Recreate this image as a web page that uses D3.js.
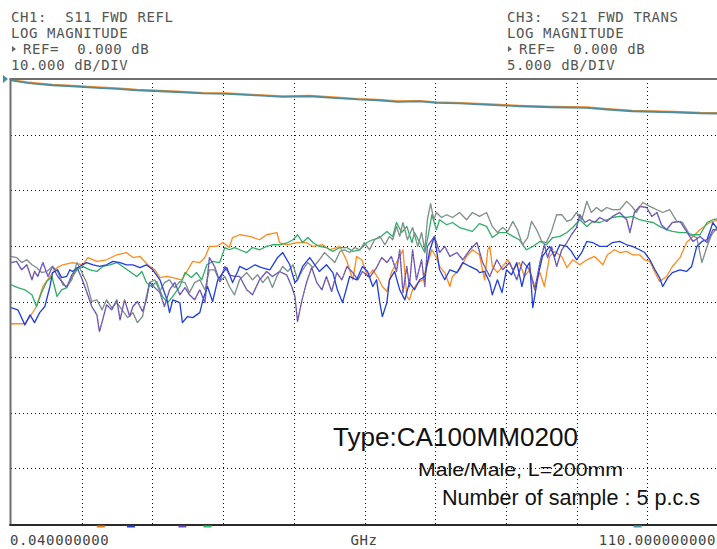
<!DOCTYPE html>
<html>
<head>
<meta charset="utf-8">
<script src="https://cdn.jsdelivr.net/npm/d3@7"></script>
<style>
  html, body { margin: 0; padding: 0; background: #fff; }
  svg { display: block; }
</style>
</head>
<body>
<div id="chart"></div>
<script>
// sweep + display settings of the analyzer
const startGHz = 0.04, stopGHz = 110;
const s11Ref = 0, s11PerDiv = 10;
const s21Ref = 0, s21PerDiv = 5;
const xDivs = 10, yDivs = 8;

const headerLeft = ["CH1:  S11 FWD REFL", "LOG MAGNITUDE", "REF=  0.000 dB", "10.000 dB/DIV"];
const headerRight = ["CH3:  S21 FWD TRANS", "LOG MAGNITUDE", "REF=  0.000 dB", "5.000 dB/DIV"];
const axisLabels = ["0.040000000", "GHz", "110.000000000"];
const notes = ["Type:CA100MM0200", "Male/Male, L=200mm", "Number of sample : 5 p.c.s"];

// 5 samples
const sampleColors = ["#ff8a1e", "#1f3ee0", "#5a4cc4", "#2fae68", "#8b8d84"];

// S11 per sample, [GHz, dB]
const s11Orange = [
  [0.04,-44.0],[2.2,-44.0],[3.0,-42.7],[4.0,-40.9],[5.0,-37.3],[6.1,-35.5],[7.2,-33.9],[8.1,-33.4],[9.6,-33.0],[11.2,-33.4],
  [12.0,-32.1],[13.4,-32.8],[14.9,-32.5],[16.5,-31.6],[18.0,-31.2],[19.0,-32.1],[20.1,-31.9],[21.3,-33.4],[22.4,-34.3],[23.2,-35.7],
  [24.3,-35.5],[25.2,-35.7],[26.6,-36.1],[27.4,-34.6],[28.3,-32.8],[29.4,-33.0],[30.2,-32.1],[30.9,-30.1],[32.0,-30.1],[33.0,-29.4],
  [34.0,-30.3],[34.5,-28.5],[35.6,-28.0],[37.2,-28.3],[38.7,-28.9],[39.8,-28.0],[41.4,-27.6],[41.8,-29.4],[42.9,-29.8],[44.5,-29.4],
  [46.0,-29.4],[47.0,-30.1],[48.5,-29.8],[49.6,-30.7],[51.2,-30.1],[52.3,-32.8],[52.7,-34.3],[53.2,-36.1],[53.8,-31.9],[54.6,-32.5],
  [55.5,-35.5],[56.3,-34.3],[57.1,-35.7],[57.8,-37.3],[58.5,-38.2],[59.2,-34.8],[60.0,-33.0],[61.0,-30.7],[61.6,-39.1],[62.0,-39.7],
  [62.5,-37.9],[63.3,-36.6],[64.1,-36.1],[64.7,-33.7],[65.5,-30.7],[66.2,-32.1],[66.7,-33.7],[67.5,-34.8],[68.3,-37.3],[68.7,-35.5],
  [69.8,-34.3],[70.9,-31.9],[71.8,-30.7],[72.9,-31.6],[73.7,-36.1],[74.2,-30.7],[74.5,-30.1],[74.9,-33.7],[75.7,-34.8],[76.5,-33.7],
  [77.3,-32.5],[78.1,-34.3],[79.1,-33.0],[79.9,-35.5],[80.7,-34.3],[81.5,-37.3],[82.3,-34.8],[83.0,-37.3],[83.8,-31.9],[84.6,-31.0],
  [85.7,-31.9],[86.5,-33.9],[87.4,-32.5],[88.5,-33.4],[89.6,-32.5],[90.8,-31.9],[92.1,-33.4],[92.8,-31.6],[93.9,-30.7],[94.7,-31.2],
  [95.8,-31.0],[96.7,-31.6],[97.8,-31.6],[98.6,-32.5],[99.4,-32.8],[100.2,-34.8],[100.9,-36.4],[102.0,-35.5],[102.9,-33.7],[104.1,-32.1],
  [105.1,-29.4],[106.1,-28.3],[107.2,-27.1],[108.7,-25.8],[110.0,-25.3]
];

const s11Blue = [
  [0.04,-41.1],[1.1,-41.5],[2.2,-44.2],[3.0,-42.4],[3.7,-43.8],[4.5,-42.0],[5.3,-40.9],[6.1,-37.3],[6.5,-34.8],[7.3,-34.3],
  [7.9,-35.7],[8.7,-35.5],[9.2,-34.3],[9.6,-34.6],[10.7,-33.7],[11.8,-33.0],[12.8,-33.4],[13.8,-33.7],[14.9,-33.4],[15.9,-32.8],
  [17.0,-33.0],[18.0,-33.4],[19.0,-33.4],[20.1,-33.9],[21.1,-33.4],[22.1,-34.3],[23.2,-36.1],[24.3,-39.7],[24.7,-42.0],[25.2,-39.7],
  [26.3,-40.2],[26.7,-43.8],[27.5,-42.7],[28.3,-42.9],[29.4,-42.0],[29.9,-39.7],[30.6,-37.3],[31.4,-40.0],[32.2,-36.1],[33.0,-34.8],
  [33.6,-33.9],[34.5,-36.6],[35.3,-34.6],[35.6,-33.7],[36.7,-34.3],[38.0,-33.4],[39.0,-33.9],[40.3,-34.3],[41.5,-32.1],[42.3,-31.2],
  [43.4,-33.4],[44.2,-36.6],[44.6,-36.1],[45.4,-33.7],[46.5,-32.1],[47.3,-33.4],[48.0,-34.6],[49.1,-33.4],[50.1,-34.8],[50.8,-37.9],
  [51.6,-40.2],[52.3,-37.3],[52.7,-35.5],[53.8,-36.1],[54.7,-33.7],[55.5,-34.6],[56.3,-37.3],[56.9,-36.1],[57.4,-40.2],[57.8,-42.7],
  [58.5,-40.2],[58.9,-36.1],[59.7,-34.6],[60.5,-37.9],[61.3,-39.7],[62.0,-36.6],[62.8,-37.9],[63.6,-36.1],[64.4,-35.5],[65.2,-30.7],
  [65.9,-28.3],[66.7,-34.3],[67.5,-36.1],[68.3,-34.3],[69.4,-34.8],[70.3,-33.0],[71.4,-33.7],[72.5,-34.3],[72.9,-34.8],[73.7,-34.6],
  [74.5,-36.6],[74.9,-38.8],[75.7,-36.1],[76.4,-38.4],[77.1,-34.3],[77.9,-35.2],[78.7,-33.0],[79.5,-37.3],[80.2,-33.9],[80.7,-33.0],
  [81.2,-41.1],[82.0,-35.5],[82.7,-31.9],[83.8,-30.1],[84.6,-31.9],[85.4,-29.8],[86.5,-30.1],[87.2,-31.0],[88.0,-32.5],[88.8,-31.2],
  [89.6,-29.2],[90.5,-29.4],[91.6,-30.1],[92.7,-30.1],[93.6,-29.4],[94.7,-29.2],[95.8,-29.8],[96.7,-30.1],[97.8,-30.7],[98.6,-31.2],
  [99.4,-32.5],[100.2,-34.3],[100.9,-35.7],[101.4,-37.3],[102.2,-35.7],[102.9,-34.8],[104.1,-34.3],[105.1,-34.6],[105.9,-33.7],[106.7,-30.1],
  [107.5,-29.2],[108.3,-28.9],[109.2,-25.8],[110.0,-27.1]
];

const s11Purple = [
  [0.04,-33.0],[0.9,-32.8],[1.7,-34.3],[2.5,-33.4],[3.3,-36.1],[3.7,-34.6],[4.2,-35.5],[5.0,-33.0],[5.8,-35.5],[6.5,-33.7],
  [7.3,-35.5],[8.1,-36.6],[8.7,-37.5],[9.5,-35.2],[10.3,-33.9],[11.0,-35.7],[11.8,-38.2],[12.6,-40.9],[13.4,-42.4],[13.8,-45.4],
  [14.3,-43.3],[14.9,-40.6],[15.7,-41.5],[16.5,-39.7],[17.0,-43.3],[17.7,-39.7],[18.5,-42.7],[19.0,-40.9],[19.7,-40.0],[20.5,-41.8],
  [21.1,-39.7],[21.6,-36.6],[22.4,-37.5],[23.2,-38.4],[23.9,-40.9],[24.7,-37.9],[25.5,-36.6],[26.3,-38.8],[27.1,-37.5],[27.8,-38.8],
  [28.6,-39.7],[29.4,-37.9],[30.2,-40.2],[30.9,-32.1],[31.7,-33.7],[32.5,-36.4],[33.3,-33.7],[34.0,-35.2],[34.8,-35.5],[35.6,-35.5],
  [36.7,-37.9],[37.6,-38.8],[38.7,-36.1],[39.8,-34.6],[40.7,-35.5],[41.8,-34.6],[42.9,-35.2],[43.7,-37.3],[44.2,-39.1],[44.6,-43.6],
  [45.3,-39.7],[46.0,-36.6],[46.8,-33.9],[47.6,-36.6],[48.4,-37.9],[49.1,-35.5],[49.9,-38.2],[50.7,-34.8],[51.5,-36.1],[52.3,-33.7],
  [53.2,-34.8],[54.0,-36.1],[54.7,-34.6],[55.8,-35.7],[56.9,-33.9],[57.7,-32.1],[58.5,-33.0],[59.2,-31.9],[60.0,-34.6],[60.5,-30.7],
  [61.0,-38.4],[61.6,-33.7],[62.0,-37.3],[62.5,-30.7],[63.1,-36.1],[63.9,-32.5],[64.4,-37.3],[64.8,-30.1],[65.9,-28.3],[66.7,-31.2],
  [67.5,-30.1],[68.3,-31.9],[69.4,-31.2],[70.3,-32.5],[71.4,-30.7],[72.5,-29.4],[73.4,-33.0],[74.5,-35.5],[75.6,-32.5],[76.5,-34.3],
  [77.6,-33.0],[78.7,-36.1],[79.6,-32.8],[80.7,-34.3],[81.5,-37.9],[82.3,-33.0],[83.0,-29.8],[83.5,-32.1],[84.1,-30.1],[84.9,-33.7],
  [85.7,-30.7],[86.5,-29.4],[87.2,-28.0],[88.0,-26.7],[88.5,-24.4],[89.3,-25.8],[90.0,-25.3],[90.8,-25.8],[91.6,-24.9],[92.7,-25.6],
  [93.6,-24.7],[94.7,-24.0],[95.8,-25.3],[96.3,-27.6],[97.0,-24.0],[97.8,-22.9],[98.9,-23.1],[99.7,-24.7],[100.5,-24.0],[101.2,-26.2],
  [102.0,-27.1],[102.9,-25.8],[104.1,-25.6],[105.1,-27.4],[106.1,-29.2],[107.2,-28.3],[108.3,-29.4],[109.2,-27.1],[110.0,-27.1]
];

const s11Green = [
  [0.04,-37.0],[1.1,-37.5],[2.2,-37.9],[3.3,-38.8],[4.0,-40.9],[4.8,-38.4],[5.6,-36.4],[6.4,-35.5],[7.2,-39.1],[7.9,-37.9],
  [8.7,-37.5],[9.5,-35.7],[10.3,-34.3],[11.2,-33.7],[12.3,-34.3],[13.4,-34.6],[14.3,-33.7],[15.4,-33.4],[16.5,-33.0],[17.4,-33.7],
  [18.5,-34.6],[19.6,-35.5],[20.4,-34.6],[21.1,-36.6],[21.9,-37.3],[22.7,-36.4],[23.6,-39.1],[24.4,-40.2],[25.2,-39.1],[26.3,-37.3],
  [27.1,-34.8],[28.1,-35.7],[28.9,-34.8],[29.7,-36.1],[30.5,-33.4],[31.4,-32.8],[32.5,-33.0],[33.3,-30.3],[34.0,-30.7],[34.8,-30.3],
  [35.6,-30.7],[36.7,-31.2],[37.6,-30.3],[38.7,-30.7],[39.8,-30.1],[40.7,-29.8],[41.8,-29.8],[43.1,-29.4],[43.9,-28.9],[44.6,-28.0],
  [45.4,-29.4],[46.2,-28.5],[47.0,-29.4],[48.0,-30.1],[49.1,-30.3],[50.1,-31.0],[51.2,-30.3],[52.3,-30.3],[53.2,-31.0],[54.3,-30.7],
  [55.4,-29.4],[56.3,-28.9],[57.4,-28.5],[58.5,-27.4],[59.4,-28.3],[60.0,-25.8],[60.8,-27.6],[61.6,-26.5],[62.4,-29.4],[62.8,-27.6],
  [63.6,-29.4],[64.4,-31.2],[64.8,-28.9],[65.5,-24.4],[66.2,-27.1],[66.7,-25.3],[67.8,-26.2],[68.7,-25.8],[69.8,-26.7],[70.9,-27.1],
  [71.8,-27.4],[72.9,-26.0],[74.0,-26.5],[74.9,-28.5],[76.0,-27.6],[77.1,-27.6],[78.1,-28.3],[79.1,-28.9],[80.2,-30.7],[81.2,-30.1],
  [82.3,-29.2],[83.3,-29.8],[84.3,-28.5],[85.4,-28.3],[86.5,-27.6],[87.4,-26.7],[88.5,-25.3],[89.6,-26.5],[90.5,-25.6],[91.6,-25.8],
  [92.7,-25.3],[93.6,-24.9],[94.7,-24.7],[95.8,-24.9],[96.7,-24.7],[97.8,-25.3],[98.9,-25.6],[99.9,-25.8],[100.9,-26.5],[102.0,-27.1],
  [102.9,-27.4],[104.1,-27.6],[105.1,-27.6],[106.1,-28.0],[107.2,-28.0],[108.3,-25.8],[109.2,-25.3],[110.0,-25.1]
];

const s11Gray = [
  [0.04,-31.9],[0.9,-32.1],[1.7,-33.0],[2.5,-32.5],[3.3,-33.4],[4.0,-33.9],[4.8,-34.8],[5.6,-34.6],[6.5,-33.7],[7.3,-34.6],
  [8.1,-37.0],[8.7,-37.3],[9.5,-36.1],[10.3,-33.0],[11.0,-34.6],[11.8,-36.6],[12.6,-40.0],[13.4,-39.7],[14.2,-41.5],[14.9,-39.7],
  [15.7,-41.1],[16.5,-40.2],[17.3,-41.5],[18.2,-42.9],[19.0,-42.0],[19.7,-43.8],[20.5,-42.7],[21.1,-39.1],[21.6,-36.6],[22.4,-36.1],
  [23.2,-38.2],[23.9,-36.6],[24.7,-36.1],[25.5,-37.5],[26.3,-36.4],[27.1,-36.6],[27.8,-38.4],[28.6,-36.6],[29.4,-36.1],[30.2,-37.9],
  [30.9,-34.3],[31.7,-34.3],[32.5,-36.4],[33.3,-35.5],[34.0,-37.3],[34.8,-38.8],[35.6,-36.1],[36.7,-34.8],[37.6,-36.1],[38.4,-35.2],
  [39.2,-36.6],[40.0,-35.5],[40.7,-37.5],[41.5,-35.2],[42.3,-33.7],[43.1,-34.6],[43.9,-33.4],[44.6,-36.1],[45.4,-34.3],[46.2,-33.0],
  [47.0,-33.9],[48.0,-32.5],[48.8,-31.2],[49.6,-32.1],[50.4,-33.0],[51.2,-31.0],[51.9,-30.7],[52.7,-31.2],[53.5,-30.3],[54.3,-30.7],
  [55.0,-29.4],[55.8,-30.7],[56.6,-28.9],[57.4,-28.3],[58.2,-29.8],[58.9,-28.3],[59.4,-28.9],[60.0,-26.5],[60.5,-28.3],[61.0,-25.8],
  [61.7,-28.9],[62.5,-26.7],[63.3,-30.1],[63.9,-27.6],[64.4,-30.7],[64.8,-25.3],[65.3,-22.4],[65.8,-25.3],[66.2,-24.0],[67.0,-24.9],
  [67.8,-24.4],[68.7,-24.9],[69.8,-24.0],[70.9,-25.3],[71.8,-24.0],[72.9,-24.7],[74.0,-24.0],[74.9,-26.5],[75.7,-27.6],[76.5,-26.7],
  [77.3,-27.4],[78.1,-25.6],[78.8,-27.1],[79.6,-29.8],[80.4,-28.5],[81.0,-25.6],[81.8,-27.1],[82.6,-29.2],[83.3,-29.4],[84.1,-27.4],
  [84.9,-24.4],[85.7,-24.4],[86.5,-25.6],[87.2,-25.3],[88.0,-24.0],[88.8,-25.3],[89.6,-22.0],[90.3,-24.0],[91.1,-23.1],[91.9,-23.8],
  [92.7,-23.1],[93.6,-23.5],[94.7,-23.5],[95.8,-22.0],[96.6,-22.9],[97.3,-24.0],[98.3,-22.2],[99.4,-22.9],[100.5,-23.5],[101.4,-24.0],
  [102.5,-23.5],[103.6,-25.6],[104.5,-25.8],[105.6,-28.0],[106.7,-28.5],[107.5,-33.0],[108.3,-30.1],[109.0,-28.0],[110.0,-26.5]
];

// S21 - the five samples sit on top of each other
const s21Trace = [
  [0.04,-0.13],[2.5,-0.34],[4.0,-0.43],[6.5,-0.56],[9.5,-0.65],[13.4,-0.79],[16.5,-0.88],[19.6,-1.01],[23.2,-1.10],[26.6,-1.19],
  [29.9,-1.30],[33.6,-1.33],[38.3,-1.48],[42.3,-1.60],[46.5,-1.55],[50.1,-1.69],[54.0,-1.84],[57.1,-1.91],[60.2,-2.05],[63.6,-2.02],
  [66.2,-2.14],[69.8,-2.20],[74.5,-2.32],[79.1,-2.45],[84.1,-2.54],[89.6,-2.59],[92.8,-2.74],[96.7,-2.90],[102.9,-2.99],[107.2,-3.08],
  [110.0,-3.10]
];

const s11Traces = [s11Orange, s11Green, s11Gray, s11Purple, s11Blue];
const s11TraceColors = [sampleColors[0], sampleColors[3], sampleColors[4], sampleColors[2], sampleColors[1]];

// small channel marks under the grid
const markGHz = [14.0, 18.7, 26.7, 30.6, 97.5];
const markColors = ["#f07a1a", "#1f3ee0", "#6a4cc0", "#2fbf70", "#4a9aa8"];

// ---- layout
const W = 717, H = 549;
const plot = { left: 11, right: 718, top: 79, bottom: 524 };

const svg = d3.select("#chart").append("svg")
  .attr("width", W)
  .attr("height", H)
  .style("font-family", "'DejaVu Sans Mono', monospace");

const x = d3.scaleLinear().domain([startGHz, stopGHz]).range([plot.left, plot.right]);
const yS11 = d3.scaleLinear().domain([s11Ref - yDivs * s11PerDiv, s11Ref]).range([plot.bottom, plot.top]);
const yS21 = d3.scaleLinear().domain([s21Ref - yDivs * s21PerDiv, s21Ref]).range([plot.bottom, plot.top]);

// rounded copies for the dotted grid so dots sit on whole pixels
const xg = x.copy().interpolate(d3.interpolateRound);
const yg = yS11.copy().interpolate(d3.interpolateRound);

const xGrid = d3.range(1, xDivs).map(i => startGHz + i * (stopGHz - startGHz) / xDivs);
const yGrid = d3.range(1, yDivs).map(i => s11Ref - i * s11PerDiv);

// grid
svg.append("g")
  .attr("transform", `translate(0,${plot.bottom})`)
  .call(d3.axisBottom(xg).tickValues(xGrid).tickSize(-(plot.bottom - plot.top)).tickFormat(""))
  .call(g => g.select(".domain").remove())
  .selectAll("line")
  .attr("stroke", "#111")
  .attr("stroke-dasharray", "1,3");

svg.append("g")
  .attr("transform", `translate(${plot.left},0)`)
  .call(d3.axisLeft(yg).tickValues(yGrid).tickSize(-(plot.right - plot.left)).tickFormat(""))
  .call(g => g.select(".domain").remove())
  .selectAll("line")
  .attr("stroke", "#111")
  .attr("stroke-dasharray", "1,3");

// traces
svg.append("defs").append("clipPath").attr("id", "plot-clip")
  .append("rect")
  .attr("x", plot.left).attr("y", plot.top - 2)
  .attr("width", plot.right - plot.left).attr("height", plot.bottom - plot.top + 2);

const traces = svg.append("g").attr("clip-path", "url(#plot-clip)");

const s11Line = d3.line().x(d => x(d[0])).y(d => yS11(d[1]));
const s21Line = d3.line().x(d => x(d[0])).y(d => yS21(d[1]));

s11Traces.forEach((data, i) => {
  traces.append("path")
    .datum(data)
    .attr("fill", "none")
    .attr("stroke", s11TraceColors[i])
    .attr("stroke-width", 1.3)
    .attr("stroke-linejoin", "round")
    .attr("d", s11Line);
});

// the purple and grey samples look speckled on the screen dump
[[s11Purple, "#e39a55"], [s11Gray, "#3aa6b4"]].forEach(([data, c]) => {
  traces.append("path")
    .datum(data)
    .attr("fill", "none")
    .attr("stroke", c)
    .attr("stroke-width", 1)
    .attr("stroke-dasharray", "1,2.5")
    .attr("opacity", 0.75)
    .attr("d", s11Line);
});

// S21 stack
traces.append("path")
  .datum(s21Trace)
  .attr("fill", "none")
  .attr("stroke", sampleColors[0])
  .attr("stroke-width", 1.6)
  .attr("transform", "translate(0,-0.7)")
  .attr("d", s21Line);
traces.append("path")
  .datum(s21Trace)
  .attr("fill", "none")
  .attr("stroke", "#4f8c9c")
  .attr("stroke-width", 1.8)
  .attr("d", s21Line);

// frame
svg.append("line")
  .attr("x1", plot.left - 0.5).attr("x2", plot.left - 0.5)
  .attr("y1", plot.top).attr("y2", plot.bottom + 2)
  .attr("stroke", "#6f6f6f").attr("stroke-width", 2);
svg.append("line")
  .attr("x1", plot.left - 1.5).attr("x2", W)
  .attr("y1", plot.top).attr("y2", plot.top)
  .attr("stroke", "#6f6f6f").attr("stroke-width", 2);
svg.append("line")
  .attr("x1", plot.left - 1.5).attr("x2", W)
  .attr("y1", plot.bottom + 1).attr("y2", plot.bottom + 1)
  .attr("stroke", "#2a2a2a").attr("stroke-width", 2);

// colour marks below the bottom edge
svg.append("g").selectAll("rect")
  .data(markGHz)
  .join("rect")
  .attr("x", d => x(d) - 4)
  .attr("y", plot.bottom + 1.5)
  .attr("width", 8)
  .attr("height", 2)
  .attr("fill", (d, i) => markColors[i]);

// reference position marker (both channels) on the left edge
svg.append("path")
  .attr("d", `M3,${plot.top - 4} L8,${plot.top} L3,${plot.top + 4} Z`)
  .attr("fill", "#3f8fa2");

// header texts
const headerSize = 14;
function header(lines, x0) {
  const g = svg.append("g")
    .attr("fill", "#555")
    .style("font-size", headerSize + "px")
    .style("letter-spacing", "0.6px");
  lines.forEach((t, i) => {
    const base = 22 + i * 16;
    if (i === 2) {
      g.append("path")
        .attr("d", `M${x0 + 1},${base - 8} L${x0 + 5},${base - 5} L${x0 + 1},${base - 2} Z`)
        .attr("fill", "#666");
      g.append("text").attr("x", x0 + 12).attr("y", base).text(t).style("white-space", "pre");
    } else {
      g.append("text").attr("x", x0).attr("y", base).text(t).style("white-space", "pre");
    }
  });
}
header(headerLeft, 11);
header(headerRight, 507);

// frequency axis texts
const axisG = svg.append("g")
  .attr("fill", "#444")
  .style("font-size", headerSize + "px")
  .style("letter-spacing", "0.6px");
axisG.append("text").attr("x", 10).attr("y", 545).text(axisLabels[0]);
axisG.append("text").attr("x", 364).attr("y", 545).attr("text-anchor", "middle").text(axisLabels[1]);
axisG.append("text").attr("x", 716).attr("y", 545).attr("text-anchor", "end").text(axisLabels[2]);

// sample notes
const noteG = svg.append("g")
  .attr("fill", "#111")
  .style("font-family", "'Liberation Sans', Arial, sans-serif");
noteG.append("text").attr("x", 333).attr("y", 446).style("font-size", "26px")
  .attr("textLength", 245).attr("lengthAdjust", "spacingAndGlyphs").text(notes[0]);
noteG.append("text").attr("x", 418).attr("y", 476).style("font-size", "18.5px")
  .attr("textLength", 205).attr("lengthAdjust", "spacingAndGlyphs").text(notes[1]);
noteG.append("text").attr("x", 442).attr("y", 505).style("font-size", "21.5px")
  .attr("textLength", 258).attr("lengthAdjust", "spacingAndGlyphs").text(notes[2]);
</script>
</body>
</html>
